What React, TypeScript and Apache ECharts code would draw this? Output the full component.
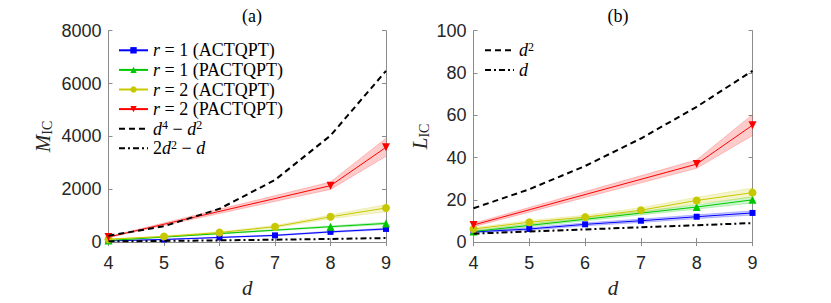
import React, { useEffect, useRef } from 'react';
import * as echarts from 'echarts';

// ---------- data ----------
const dAll = [4, 5, 6, 7, 8, 9];
const dPact = [4, 8, 9];

// (a) M_IC
const mR1Act = [45, 100, 175, 255, 387, 498];
const mR1ActLo = [38, 88, 160, 235, 362, 470];
const mR1ActHi = [52, 112, 190, 275, 412, 526];
const mR1Pact = [60, 584, 707];
const mR1PactLo = [52, 555, 665];
const mR1PactHi = [68, 613, 750];
const mR2Act = [110, 212, 361, 584, 956, 1291];
const mR2ActLo = [98, 192, 331, 540, 886, 1150];
const mR2ActHi = [122, 232, 391, 628, 1026, 1420];
const mR2Pact = [190, 2135, 3587];
const mR2PactLo = [170, 1995, 3250];
const mR2PactHi = [210, 2275, 3930];
const mD4 = [240, 600, 1260, 2352, 4032, 6480];
const mD2 = [28, 45, 66, 91, 120, 153];

// (b) L_IC
const lR1Act = [4.8, 6.2, 8.4, 10.1, 12.0, 13.8];
const lR1ActLo = [4.3, 5.6, 7.7, 9.3, 11.1, 12.8];
const lR1ActHi = [5.3, 6.8, 9.1, 10.9, 12.9, 14.8];
const lR1Pact = [5.0, 16.6, 20.0];
const lR1PactLo = [4.5, 15.6, 18.5];
const lR1PactHi = [5.5, 17.6, 21.5];
const lR2Act = [6.2, 9.4, 11.8, 15.1, 19.7, 23.4];
const lR2ActLo = [5.6, 8.6, 10.9, 13.9, 18.2, 21.2];
const lR2ActHi = [6.8, 10.2, 12.7, 16.3, 21.2, 25.6];
const lR2Pact = [8.1, 36.9, 55.3];
const lR2PactLo = [7.3, 34.9, 50.4];
const lR2PactHi = [8.9, 38.9, 60.3];
const lD2 = [16, 25, 36, 49, 64, 81];
const lD = [4, 5, 6, 7, 8, 9];

const xTicks = { min: 4, max: 9, interval: 1 };
const mTicks = { min: 0, max: 8000, interval: 2000 };
const lTicks = { min: 0, max: 100, interval: 20 };

// ---------- styles ----------
const BLUE = '#0000ff';
const GREEN = '#00c800';
const YELLOW = '#c8c800';
const RED = '#ff0000';
const AXIS = '#8c8c8c';
const TXT = '#262626';
const SANS = '"Liberation Sans", Arial, Helvetica, sans-serif';
const SERIF = '"Liberation Serif", "Times New Roman", serif';

const NAMES = {
  r1a: 'r = 1 (ACTQPT)',
  r1p: 'r = 1 (PACTQPT)',
  r2a: 'r = 2 (ACTQPT)',
  r2p: 'r = 2 (PACTQPT)',
  d4: 'd^4 - d^2',
  dd: '2d^2 - d',
  d2: 'd^2',
  d1: 'd',
};

const RICH_LABEL: Record<string, string> = {
  [NAMES.r1a]: '{i|r} = 1 (ACTQPT)',
  [NAMES.r1p]: '{i|r} = 1 (PACTQPT)',
  [NAMES.r2a]: '{i|r} = 2 (ACTQPT)',
  [NAMES.r2p]: '{i|r} = 2 (PACTQPT)',
  [NAMES.d4]: '{i|d}{s|4} − {i|d}{s|2}',
  [NAMES.dd]: '2{i|d}{s|2} − {i|d}',
  [NAMES.d2]: '{i|d}{s|2}',
  [NAMES.d1]: '{i|d}',
};

function band(xs: number[], lo: number[], hi: number[], color: string, ax: number) {
  return {
    type: 'custom',
    xAxisIndex: ax,
    yAxisIndex: ax,
    silent: true,
    z: 1,
    data: xs.map((x, i) => [x, lo[i], hi[i]]),
    encode: { x: 0, y: [1, 2] },
    renderItem: (params: any, api: any) => {
      if (params.dataIndex !== 0) return null;
      const top = xs.map((x, i) => api.coord([x, hi[i]]));
      const bot = xs.map((x, i) => api.coord([x, lo[i]]));
      return {
        type: 'group',
        children: [
          {
            type: 'polygon',
            shape: { points: top.concat(bot.slice().reverse()) },
            style: { fill: color, opacity: 0.2 },
          },
          {
            type: 'polyline',
            shape: { points: top },
            style: { stroke: color, fill: null, lineWidth: 0.7, opacity: 0.3 },
          },
          {
            type: 'polyline',
            shape: { points: bot },
            style: { stroke: color, fill: null, lineWidth: 0.7, opacity: 0.3 },
          },
        ],
      };
    },
  };
}

function line(
  name: string,
  xs: number[],
  ys: number[],
  color: string,
  symbol: string,
  size: number,
  ax: number,
  rotate = 0
) {
  return {
    type: 'line',
    name,
    xAxisIndex: ax,
    yAxisIndex: ax,
    data: xs.map((x, i) => [x, ys[i]]),
    symbol,
    symbolSize: size,
    symbolRotate: rotate,
    showSymbol: true,
    lineStyle: { color, width: 1 },
    itemStyle: { color },
    z: 3,
  };
}

function blackLine(name: string, xs: number[], ys: number[], type: any, ax: number) {
  return {
    type: 'line',
    name,
    xAxisIndex: ax,
    yAxisIndex: ax,
    data: xs.map((x, i) => [x, ys[i]]),
    symbol: 'none',
    smooth: false,
    lineStyle: { color: '#000', width: 2, type },
    itemStyle: { color: '#000' },
    z: 4,
  };
}

const DASH = [6, 4];
const DASHDOT = [6, 3, 2, 3];

function xAxisPair(gridIndex: number) {
  const common = {
    type: 'value',
    gridIndex,
    ...xTicks,
    splitLine: { show: false },
    axisLine: { show: true, lineStyle: { color: AXIS, width: 1 } },
    axisTick: { show: true, inside: true, length: 4, lineStyle: { color: AXIS } },
  };
  return [
    {
      ...common,
      position: 'bottom',
      axisLabel: { color: TXT, fontFamily: SANS, fontSize: 18, margin: 12 },
      name: 'd',
      nameLocation: 'middle',
      nameGap: 31,
      nameTextStyle: { fontFamily: SERIF, fontStyle: 'italic', fontSize: 21, color: TXT },
    },
    { ...common, position: 'top', axisLabel: { show: false } },
  ];
}

function yAxisPair(gridIndex: number, ticks: any, name: string, gap: number) {
  const common = {
    type: 'value',
    gridIndex,
    ...ticks,
    splitLine: { show: false },
    axisLine: { show: true, lineStyle: { color: AXIS, width: 1 } },
    axisTick: { show: true, inside: true, length: 4, lineStyle: { color: AXIS } },
  };
  return [
    {
      ...common,
      position: 'left',
      axisLabel: {
        color: TXT,
        fontFamily: SANS,
        fontSize: 18,
        margin: 7,
        formatter: (v: number) => String(v),
      },
      name,
      nameLocation: 'middle',
      nameRotate: 90,
      nameGap: gap,
      nameMoveOverlap: false,
      nameTextStyle: {
        color: TXT,
        rich: {
          m: { fontFamily: SERIF, fontStyle: 'italic', fontSize: 21, lineHeight: 24, color: TXT },
          sub: { fontFamily: SERIF, fontSize: 14, lineHeight: 12, verticalAlign: 'bottom', color: TXT },
        },
      },
    },
    { ...common, position: 'right', axisLabel: { show: false } },
  ];
}

const legendText = {
  fontFamily: SERIF,
  fontSize: 18,
  color: '#000',
  lineHeight: 19.6,
  rich: {
    i: { fontFamily: SERIF, fontStyle: 'italic', fontSize: 18, lineHeight: 19.6, color: '#000' },
    s: { fontFamily: SERIF, fontSize: 12, lineHeight: 9, verticalAlign: 'top', color: '#000' },
  },
};

const hideSym = { color: 'rgba(0,0,0,0)', opacity: 0, borderWidth: 0 };

export default function App() {
  const ref = useRef<HTMLDivElement>(null);
  useEffect(() => {
    if (!ref.current) return;
    const chart = echarts.init(ref.current, undefined, { renderer: 'svg' });
    const legendCommon = {
      orient: 'vertical',
      top: 40.5,
      itemWidth: 29,
      itemHeight: 8,
      itemGap: 0,
      padding: 0,
      formatter: (n: string) => RICH_LABEL[n] || n,
      textStyle: legendText,
      selectedMode: false,
    };
    const option: any = {
      animation: false,
      backgroundColor: '#fff',
      title: [
        {
          text: '(a)',
          left: 247,
          top: 2,
          textAlign: 'center',
          textStyle: { fontFamily: SERIF, fontWeight: 'normal', fontSize: 18, color: '#000' },
        },
        {
          text: '(b)',
          left: 613,
          top: 2,
          textAlign: 'center',
          textStyle: { fontFamily: SERIF, fontWeight: 'normal', fontSize: 18, color: '#000' },
        },
      ],
      legend: [
        {
          ...legendCommon,
          left: 118,
          data: [
            NAMES.r1a,
            NAMES.r1p,
            NAMES.r2a,
            NAMES.r2p,
            { name: NAMES.d4, itemStyle: hideSym },
            { name: NAMES.dd, itemStyle: hideSym },
          ],
        },
        {
          ...legendCommon,
          left: 484,
          data: [
            { name: NAMES.d2, itemStyle: hideSym },
            { name: NAMES.d1, itemStyle: hideSym },
          ],
        },
      ],
      grid: [
        { left: 108.5, top: 30.7, width: 277.5, height: 215 },
        { left: 473.5, top: 30.7, width: 279, height: 215 },
      ],
      xAxis: [...xAxisPair(0), ...xAxisPair(1)],
      yAxis: [
        ...yAxisPair(0, mTicks, '{m|M}{sub|IC}', 54),
        ...yAxisPair(1, lTicks, '{m|L}{sub|IC}', 42),
      ],
      series: [
        // panel (a)
        band(dAll, mR1ActLo, mR1ActHi, BLUE, 0),
        band(dPact, mR1PactLo, mR1PactHi, GREEN, 0),
        band(dAll, mR2ActLo, mR2ActHi, YELLOW, 0),
        band(dPact, mR2PactLo, mR2PactHi, RED, 0),
        line(NAMES.r1a, dAll, mR1Act, BLUE, 'rect', 6, 0),
        line(NAMES.r1p, dPact, mR1Pact, GREEN, 'triangle', 8, 0),
        line(NAMES.r2a, dAll, mR2Act, YELLOW, 'circle', 8, 0),
        line(NAMES.r2p, dPact, mR2Pact, RED, 'triangle', 8, 0, 180),
        blackLine(NAMES.d4, dAll, mD4, DASH, 0),
        blackLine(NAMES.dd, dAll, mD2, DASHDOT, 0),
        // panel (b)
        band(dAll, lR1ActLo, lR1ActHi, BLUE, 2),
        band(dPact, lR1PactLo, lR1PactHi, GREEN, 2),
        band(dAll, lR2ActLo, lR2ActHi, YELLOW, 2),
        band(dPact, lR2PactLo, lR2PactHi, RED, 2),
        line(NAMES.r1a, dAll, lR1Act, BLUE, 'rect', 6, 2),
        line(NAMES.r1p, dPact, lR1Pact, GREEN, 'triangle', 8, 2),
        line(NAMES.r2a, dAll, lR2Act, YELLOW, 'circle', 8, 2),
        line(NAMES.r2p, dPact, lR2Pact, RED, 'triangle', 8, 2, 180),
        blackLine(NAMES.d2, dAll, lD2, DASH, 2),
        blackLine(NAMES.d1, dAll, lD, DASHDOT, 2),
      ],
    };
    chart.setOption(option);
    return () => chart.dispose();
  }, []);
  return (
    <div
      ref={ref}
      style={{ position: 'fixed', left: 0, top: 0, width: 831, height: 303, background: '#fff' }}
    />
  );
}
